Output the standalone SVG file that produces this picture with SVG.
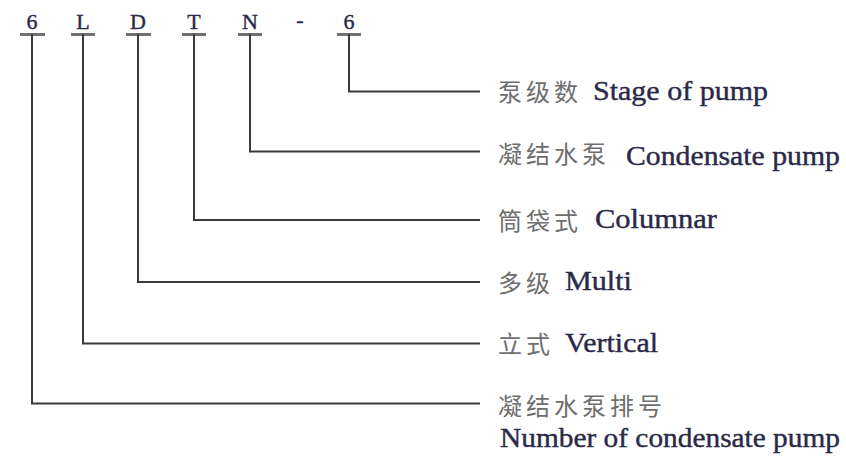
<svg xmlns="http://www.w3.org/2000/svg" width="846" height="462" viewBox="0 0 846 462">
<style>
.code{font-family:"Liberation Serif",serif;font-size:22px;fill:#2a2a48;stroke:#2a2a48;stroke-width:0.4;text-anchor:middle}
.zh{font-family:"Noto Sans CJK SC","Noto Sans CJK JP",sans-serif;font-size:24px;fill:#6e6e6e;letter-spacing:4px}
.en{font-family:"Liberation Serif","Times New Roman",serif;font-size:27px;fill:#2a2a48;stroke:#2a2a48;stroke-width:0.4}
.ul{stroke:#707070;stroke-width:3;fill:none}
.ln{stroke:#3a3a3a;stroke-width:2;fill:none}
</style>
<rect width="846" height="462" fill="#fff"/>
<g id="code">
<text class="code" x="32" y="29">6</text>
<text class="code" x="83" y="29">L</text>
<text class="code" x="138" y="29">D</text>
<text class="code" x="194" y="29">T</text>
<text class="code" x="250" y="29">N</text>
<text class="code" x="300" y="27">-</text>
<text class="code" x="349" y="29">6</text>
<path class="ul" d="M20 34.5H45M71 34.5H95M126 34.5H151M182 34.5H206M238 34.5H262M337 34.5H361"/>
</g>
<g id="connectors">
<path class="ln" d="M349 34V91.5H480"/>
<path class="ln" d="M250 34V151.5H480"/>
<path class="ln" d="M194 34V220H480"/>
<path class="ln" d="M138 34V282H480"/>
<path class="ln" d="M83 34V343.5H480"/>
<path class="ln" d="M32 34V403.5H480"/>
</g>
<g id="stage">
<text class="zh" x="498" y="101">泵级数</text>
<text class="en" x="593" y="100" textLength="175" lengthAdjust="spacingAndGlyphs">Stage of pump</text>
</g>
<g id="condensate">
<text class="zh" x="498" y="163">凝结水泵</text>
<text class="en" x="626" y="165" textLength="214" lengthAdjust="spacingAndGlyphs">Condensate pump</text>
</g>
<g id="columnar">
<text class="zh" x="498" y="230">筒袋式</text>
<text class="en" x="595" y="228" textLength="122" lengthAdjust="spacingAndGlyphs">Columnar</text>
</g>
<g id="multi">
<text class="zh" x="498" y="292">多级</text>
<text class="en" x="565" y="290" textLength="67" lengthAdjust="spacingAndGlyphs">Multi</text>
</g>
<g id="vertical">
<text class="zh" x="498" y="353">立式</text>
<text class="en" x="565" y="352" textLength="93" lengthAdjust="spacingAndGlyphs">Vertical</text>
</g>
<g id="number">
<text class="zh" x="498" y="415">凝结水泵排号</text>
<text class="en" x="500" y="447" textLength="340" lengthAdjust="spacingAndGlyphs">Number of condensate pump</text>
</g>
</svg>
